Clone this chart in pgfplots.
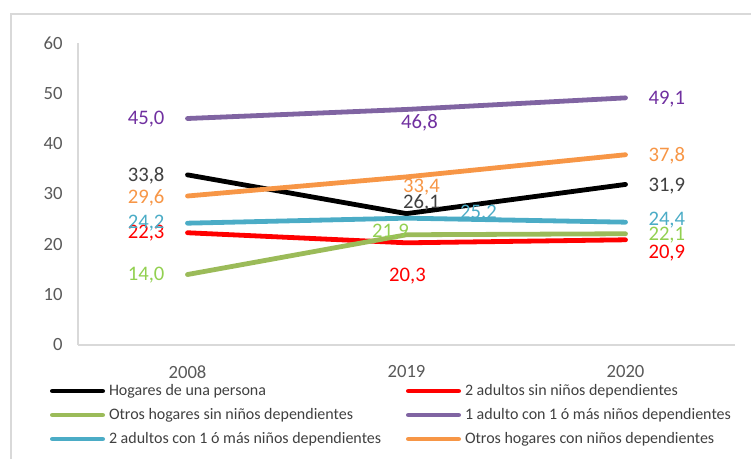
\documentclass[border=0pt]{standalone}
\usepackage{fontspec}
\setmainfont{Carlito}
\usepackage{pgfplots}
\pgfplotsset{compat=1.18}
\usepackage{pgfplotstable}

\definecolor{cRed}{HTML}{FF0000}
\definecolor{cGreen}{HTML}{9BBB59}
\definecolor{cPurple}{HTML}{8064A2}
\definecolor{cBlue}{HTML}{4BACC6}
\definecolor{cOrange}{HTML}{F79646}
\definecolor{lBlack}{HTML}{404040}
\definecolor{lGreen}{HTML}{92D050}
\definecolor{lPurple}{HTML}{7030A0}
\definecolor{tickGray}{HTML}{595959}
\definecolor{lineGray}{HTML}{D9D9D9}
\definecolor{legGray}{HTML}{404040}

% x y label dx dy (label offsets in pt)
\pgfplotstableread{
x y lab dx dy
0 33.8 33,8 -31 -1
1 26.1 26,1 11.25 8
2 31.9 31,9 31 -1
}\tblack
\pgfplotstableread{
x y lab dx dy
0 22.3 22,3 -31 0
1 20.3 20,3 0.75 -24.75
2 20.9 20,9 31 -9.75
}\tred
\pgfplotstableread{
x y lab dx dy
0 14.0 14,0 -31 -0.75
1 21.9 21,9 -12 2.25
2 22.1 22,1 31 -0.75
}\tgreen
\pgfplotstableread{
x y lab dx dy
0 45.0 45,0 -31 -0.75
1 46.8 46,8 9.75 -10
2 49.1 49,1 31 -0.75
}\tpurple
\pgfplotstableread{
x y lab dx dy
0 24.2 24,2 -31 0
1 25.2 25,2 54 3.75
2 24.4 24,4 31 1.5
}\tblue
\pgfplotstableread{
x y lab dx dy
0 29.6 29,6 -31 -1.5
1 33.4 33,4 11.25 -7.5
2 37.8 37,8 31 -0.75
}\torange

\pgfplotsset{
  ser/.style={line width=3.6pt, line cap=round, line join=round, no markers, forget plot,
    nodes near coords, point meta=explicit symbolic,
    visualization depends on={\thisrow{dx} \as \dx},
    visualization depends on={\thisrow{dy} \as \dy},
    nodes near coords style={anchor=center, inner sep=0pt, xshift=\dx pt, yshift=\dy pt,
      font=\fontsize{15.5pt}{18pt}\selectfont, text=#1}},
  leg/.style={#1, line width=3.4pt, line cap=round},
}

\begin{document}
\begin{tikzpicture}
\useasboundingbox (0pt,0pt) rectangle (563.25pt,344.25pt);
\draw[lineGray, line width=1.1pt] (8.25pt,-2pt) -- (8.25pt,333.75pt) -- (566pt,333.75pt);
\begin{axis}[
  at={(58.5pt,85.5pt)}, anchor=south west,
  scale only axis, width=492.75pt, height=226.5pt,
  xmin=-0.5, xmax=2.5, ymin=0, ymax=60,
  xtick={0,1,2}, xticklabels={2008,2019,2020},
  ytick={0,10,...,60},
  axis x line*=bottom, axis y line*=left,
  axis line style={draw=lineGray, line width=0.9pt, -},
  major tick length=0pt,
  tick label style={font=\fontsize{14pt}{16pt}\selectfont, text=tickGray},
  /pgf/number format/assume math mode=true,
  xticklabel style={yshift=-12pt},
  yticklabel style={xshift=-8pt},
  clip=false,
  legend columns=2,
  legend cell align=left,
  legend style={at={(axis description cs:-0.0426,-0.1193)}, anchor=north west,
    draw=none, fill=none, inner sep=0pt, outer sep=0pt,
    font=\fontsize{12pt}{14pt}\selectfont, text=legGray,
    column sep=1.5pt, row sep=3pt,
    nodes={inner sep=1.5pt, text height=9pt, text depth=3pt}},
  legend image code/.code={\draw[#1] (1.7pt,0pt) -- (39.55pt,0pt);},
]
\addlegendimage{leg=black}
\addlegendentry{\makebox[219.75pt][l]{Hogares de una persona}}
\addlegendimage{leg=cRed}
\addlegendentry{2 adultos sin niños dependientes}
\addlegendimage{leg=cGreen}
\addlegendentry{\makebox[219.75pt][l]{Otros hogares sin niños dependientes}}
\addlegendimage{leg=cPurple}
\addlegendentry{1 adulto con 1 ó más niños dependientes}
\addlegendimage{leg=cBlue}
\addlegendentry{\makebox[219.75pt][l]{2 adultos con 1 ó más niños dependientes}}
\addlegendimage{leg=cOrange}
\addlegendentry{Otros hogares con niños dependientes}

\addplot[black, ser=lBlack] table[x=x, y=y, meta=lab] {\tblack};
\addplot[cRed, ser=cRed] table[x=x, y=y, meta=lab] {\tred};
\addplot[cGreen, ser=lGreen] table[x=x, y=y, meta=lab] {\tgreen};
\addplot[cPurple, ser=lPurple] table[x=x, y=y, meta=lab] {\tpurple};
\addplot[cBlue, ser=cBlue] table[x=x, y=y, meta=lab] {\tblue};
\addplot[cOrange, ser=cOrange] table[x=x, y=y, meta=lab] {\torange};
\end{axis}
\end{tikzpicture}
\end{document}
